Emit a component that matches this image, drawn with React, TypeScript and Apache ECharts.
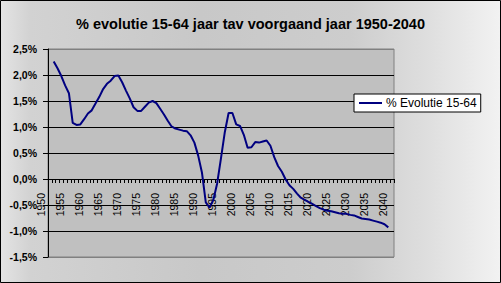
import React, { useEffect, useRef } from "react";
import * as echarts from "echarts";

const titleText = "% evolutie 15-64 jaar tav voorgaand jaar 1950-2040";
const seriesName = "% Evolutie 15-64";

const years: string[] = [];
for (let y = 1950; y <= 2040; y++) years.push(String(y));

// % change versus previous year, 1950..2040 (no value for 1950 and 2040)
const evolutie: (number | null)[] = [
  null,
  2.26, 2.13, 1.98, 1.8, 1.65, 1.08, 1.04, 1.05, 1.15, 1.26, // 1951-1960
  1.32, 1.45, 1.58, 1.73, 1.83, 1.89, 1.98, 1.99, 1.86, 1.7, // 1961-1970
  1.55, 1.38, 1.31, 1.31, 1.39, 1.47, 1.5, 1.46, 1.35, 1.24, // 1971-1980
  1.12, 1.01, 0.97, 0.95, 0.93, 0.92, 0.84, 0.7, 0.45, 0.12, // 1981-1990
  -0.45, -0.55, -0.4, -0.08, 0.4, 0.9, 1.27, 1.27, 1.05, 1.02, // 1991-2000
  0.85, 0.6, 0.61, 0.71, 0.7, 0.72, 0.74, 0.64, 0.42, 0.25, // 2001-2010
  0.14, -0.01, -0.12, -0.19, -0.28, -0.36, -0.4, -0.44, -0.48, -0.52, // 2011-2020
  -0.56, -0.59, -0.61, -0.62, -0.64, -0.66, -0.67, -0.67, -0.69, -0.7, // 2021-2030
  -0.73, -0.76, -0.77, -0.78, -0.8, -0.82, -0.84, -0.87, -0.93, // 2031-2039
  null,
];

const yMin = -1.5;
const yMax = 2.5;
const yStep = 0.5;

export default function App() {
  const ref = useRef<HTMLDivElement>(null);
  useEffect(() => {
    if (!ref.current) return;
    const chart = echarts.init(ref.current, undefined, { renderer: "svg" });
    const font = "'Liberation Sans', Arial, sans-serif";
    const gridTop = 49;
    const gridBottom = 26;
    const plotH = 283 - gridTop - gridBottom;
    const zeroOffset = -Math.round((plotH * (0 - yMin)) / (yMax - yMin));
    chart.setOption({
      animation: false,
      backgroundColor: "transparent",
      title: {
        text: titleText,
        left: "center",
        top: 16,
        padding: 0,
        textStyle: { fontFamily: font, fontSize: 14.5, fontWeight: "bold", color: "#000" },
      },
      legend: {
        data: [seriesName],
        left: 354,
        top: 94,
        icon: "rect",
        itemWidth: 23,
        itemHeight: 2,
        itemGap: 4,
        padding: [3, 4, 3, 5],
        backgroundColor: "#ffffff",
        borderColor: "#000000",
        borderWidth: 1,
        borderRadius: 0,
        textStyle: { fontFamily: font, fontSize: 12, color: "#000", padding: [0, 0, 0, -1] },
      },
      grid: {
        left: 48,
        top: gridTop,
        right: 107,
        bottom: gridBottom,
        outerBoundsMode: "none",
        containLabel: false,
        show: true,
        backgroundColor: "#c0c0c0",
        borderColor: "#808080",
        borderWidth: 1,
      },
      xAxis: {
        type: "category",
        data: years,
        boundaryGap: true,
        position: "bottom",
        offset: zeroOffset,
        axisLine: { onZero: false, lineStyle: { color: "#000", width: 1 } },
        axisTick: { show: true, interval: 0, length: 4, lineStyle: { color: "#000" } },
        axisLabel: {
          interval: 4,
          rotate: 90,
          margin: 14,
          verticalAlign: "bottom",
          lineHeight: 18,
          fontFamily: font,
          fontSize: 10.5,
          color: "#000",
          hideOverlap: false,
        },
        splitLine: { show: false },
      },
      yAxis: {
        type: "value",
        min: yMin,
        max: yMax,
        interval: yStep,
        axisLine: { show: true, onZero: false, lineStyle: { color: "#000", width: 1 } },
        axisTick: { show: true, length: 5, lineStyle: { color: "#000" } },
        axisLabel: {
          margin: 11,
          fontFamily: font,
          fontSize: 10.5,
          fontWeight: "bold",
          color: "#000",
          formatter: (v: number) => v.toFixed(1).replace(".", ",") + "%",
        },
        splitLine: {
          show: true,
          lineStyle: {
            width: 1,
            color: ["#808080", "#000", "#000", "#000", "#000", "#000", "#000", "#000", "#808080"],
          },
        },
      },
      graphic: [
        {
          type: "rect",
          silent: true,
          z: 100,
          shape: { x: 0.5, y: 0.5, width: 500, height: 282 },
          style: { fill: "none", stroke: "#000", lineWidth: 1 },
        },
      ],
      series: [
        {
          name: seriesName,
          type: "line",
          data: evolutie,
          symbol: "none",
          connectNulls: false,
          lineStyle: { color: "#000080", width: 2 },
          itemStyle: { color: "#000080" },
        },
      ],
    });
    return () => chart.dispose();
  }, []);
  return (
    <div
      style={{
        position: "absolute",
        left: 0,
        top: 0,
        width: 501,
        height: 283,
        background:
          "linear-gradient(90deg, #e4e4e4 0%, #d2d2d2 6%, #c8c8c8 40%, #cdcdcd 70%, #dedede 85%, #f2f2f2 100%)",
      }}
    >
      <div ref={ref} style={{ width: 501, height: 283 }} />
    </div>
  );
}
